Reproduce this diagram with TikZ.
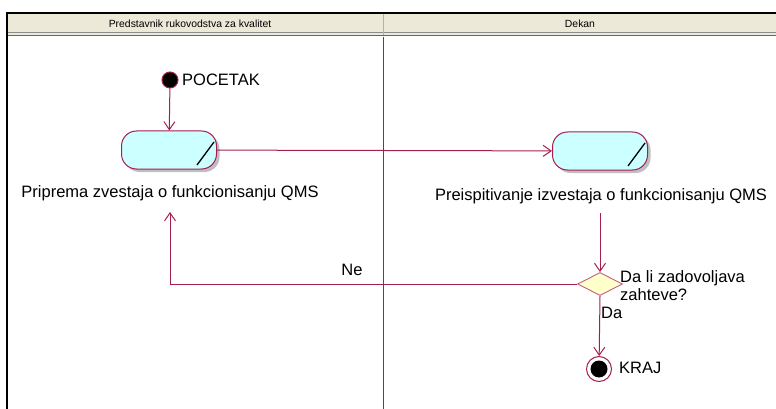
\documentclass[tikz,border=0pt]{standalone}
\usepackage{fontspec}
\setmainfont{Liberation Sans}
\usetikzlibrary{arrows.meta,shapes.geometric}
\definecolor{umlline}{RGB}{165,30,80}
\definecolor{actfill}{RGB}{204,255,255}
\definecolor{decfill}{RGB}{255,255,204}
\definecolor{hdrfill}{RGB}{236,233,216}
\tikzset{
  flow/.style={draw=umlline, line width=1pt, -{Straight Barb[length=8pt,width=11pt]}},
  activity/.style={draw=umlline, fill=actfill, line width=1pt, rounded corners=15pt,
    minimum width=95pt, minimum height=38pt, inner sep=0pt},
  shadowbox/.style={fill=black!25, rounded corners=15pt, minimum width=95pt,
    minimum height=38pt, inner sep=0pt},
  decision/.style={diamond, draw=umlline!70, fill=decfill, line width=0.9pt,
    minimum width=45pt, minimum height=23pt, inner sep=0pt, aspect=2},
  lbl/.style={font=\fontsize{16.5}{18}\selectfont, inner sep=0pt},
  hdr/.style={font=\fontsize{10.4}{12}\selectfont, inner sep=0pt},
}
\begin{document}
\begin{tikzpicture}[x=1pt,y=-1pt]
\useasboundingbox (0,0) rectangle (776,409);
\begin{scope}
\clip (0,0) rectangle (776,409);
% swimlane header
\fill[hdrfill] (7,13) rectangle (790,35);
\draw[black!45, line width=1pt] (7,33) -- (790,33);
\draw[black!60, line width=1pt] (7,36) -- (790,36);
\draw[black!30, line width=1pt] (383,13) -- (383,35);
\draw[black, line width=2pt] (7,420) -- (7,13) -- (790,13);
% lane divider
\draw[umlline, line width=1pt] (383,37) -- (383,420);
\end{scope}
\node[hdr] (lane1) at (190,24) {Predstavnik rukovodstva za kvalitet};
\node[hdr] (lane2) at (580,24) {Dekan};

% start node
\node[circle, fill=black, draw=umlline, line width=1pt, minimum size=16pt, inner sep=0pt] (start) at (170,80) {};
\node[lbl, anchor=west] (startlbl) at (182,80) {POCETAK};

% activity 1
\node[shadowbox] (sh1) at (172,153) {};
\node[activity] (a1) at (169,150) {};
\draw[black, line width=1.3pt] (197,165) -- (214,142);
\node[lbl] (a1lbl) at (170,193) {Priprema zvestaja o funkcionisanju QMS};

% activity 2
\node[shadowbox] (sh2) at (603,154) {};
\node[activity] (a2) at (600,151) {};
\draw[black, line width=1.3pt] (628,166) -- (645,143);
\node[lbl] (a2lbl) at (601,196) {Preispitivanje izvestaja o funkcionisanju QMS};

% decision
\node[decision] (dec) at (600,284) {};
\node[lbl, anchor=west, align=left, font=\fontsize{16.5}{18}\selectfont] (declbl) at (620,286) {Da li zadovoljava\\zahteve?};

% end node
\node[circle, draw=umlline, fill=white, line width=1pt, minimum size=25pt, inner sep=0pt] (end) at (599,369) {};
\node[circle, fill=black, minimum size=17pt, inner sep=0pt] (endin) at (599,369) {};
\node[lbl, anchor=west] (endlbl) at (619,368) {KRAJ};

% flows
\draw[flow] (start) -- (a1);
\draw[flow] (a1) -- (a2);
\coordinate (d1) at (600,213);
\draw[flow] (d1) -- (dec.north);
\coordinate (ne) at (170,284);
\coordinate (back) at (170,212);
\draw[flow] (dec.west) -- (ne) -- (back);
\node[lbl] (nelbl) at (352,270) {Ne};
\draw[flow] (dec.south) -- (end);
\node[lbl, anchor=west] (dalbl) at (601,313) {Da};
\end{tikzpicture}
\end{document}
